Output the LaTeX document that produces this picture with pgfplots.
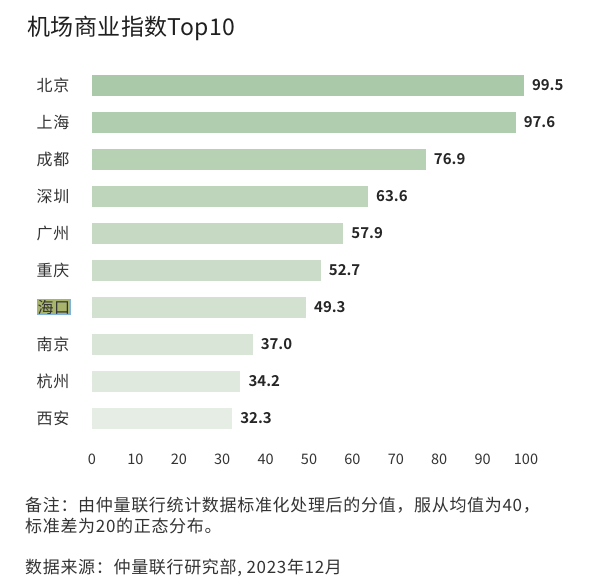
\documentclass[border=0pt]{standalone}
\usepackage{fontspec}
\setmainfont{Noto Sans CJK SC}[BoldFont={Noto Sans CJK SC Bold}]
\newfontfamily\spacedfont{Noto Sans CJK SC}[LetterSpace=4]
\newfontfamily\titlefont{Noto Sans CJK SC}[LetterSpace=2]
\usepackage{pgfplots}
\pgfplotsset{compat=1.18}

\definecolor{txt}{HTML}{333333}
\definecolor{hlfill}{RGB}{168,180,108}
\definecolor{hlline}{RGB}{128,178,224}
\definecolor{c0}{RGB}{170,201,168}
\definecolor{c1}{RGB}{177,205,175}
\definecolor{c2}{RGB}{183,209,181}
\definecolor{c3}{RGB}{190,213,188}
\definecolor{c4}{RGB}{197,217,195}
\definecolor{c5}{RGB}{203,221,201}
\definecolor{c6}{RGB}{210,225,208}
\definecolor{c7}{RGB}{217,229,215}
\definecolor{c8}{RGB}{223,233,221}
\definecolor{c9}{RGB}{230,237,228}

\begin{document}
\begin{tikzpicture}
\useasboundingbox (0,0) rectangle (612bp,586bp);
\begin{axis}[
  at={(92bp,149.5bp)}, anchor=south west,
  scale only axis, width=434bp, height=370bp,
  xbar, bar width=21bp, bar shift=0pt,
  xmin=0, xmax=100, ymin=-0.5, ymax=9.5,
  y dir=reverse,
  xtick={0,10,...,100},
  ytick={0,...,9},
  yticklabels={北京,上海,成都,深圳,广州,重庆,{\setlength{\fboxsep}{0pt}\setlength{\fboxrule}{0.8bp}\fcolorbox{hlline}{hlfill}{海口}},南京,杭州,西安},
  axis line style={draw=none},
  major tick length=0pt,
  /pgf/number format/assume math mode=true,
  xticklabel style={font=\fontsize{14.5bp}{16bp}\selectfont, text=txt, anchor=base, inner sep=0pt, yshift=-27.5bp},
  yticklabel style={font=\spacedfont\fontsize{16bp}{18bp}\selectfont, text=txt, anchor=base west, inner sep=0pt, xshift=-55.5bp, yshift=-6bp},
  point meta=x,
  nodes near coords={\pgfmathprintnumber[fixed,fixed zerofill,precision=1]{\pgfplotspointmeta}},
  nodes near coords style={font=\fontsize{15bp}{17bp}\selectfont\bfseries, text=black!85, anchor=base west, inner sep=0pt, xshift=8bp, yshift=-5bp},
  every axis plot/.append style={draw=none},
]
\addplot[fill=c0] coordinates {(99.5,0)};
\addplot[fill=c1] coordinates {(97.6,1)};
\addplot[fill=c2] coordinates {(76.9,2)};
\addplot[fill=c3] coordinates {(63.6,3)};
\addplot[fill=c4] coordinates {(57.9,4)};
\addplot[fill=c5] coordinates {(52.7,5)};
\addplot[fill=c6] coordinates {(49.3,6)};
\addplot[fill=c7] coordinates {(37.0,7)};
\addplot[fill=c8] coordinates {(34.2,8)};
\addplot[fill=c9] coordinates {(32.3,9)};
\end{axis}
\node[anchor=base west, inner sep=0pt, text=black!88, font=\titlefont\fontsize{23bp}{26bp}\selectfont] at (27bp,550bp) {机场商业指数Top10};
\node[anchor=base west, inner sep=0pt, text=txt, font=\spacedfont\fontsize{17bp}{19bp}\selectfont] at (25bp,74.5bp) {备注：由仲量联行统计数据标准化处理后的分值，服从均值为40，};
\node[anchor=base west, inner sep=0pt, text=txt, font=\spacedfont\fontsize{17bp}{19bp}\selectfont] at (25bp,53.5bp) {标准差为20的正态分布。};
\node[anchor=base west, inner sep=0pt, text=txt, font=\spacedfont\fontsize{17bp}{19bp}\selectfont] at (25bp,12.5bp) {数据来源：仲量联行研究部, 2023年12月};
\end{tikzpicture}
\end{document}
